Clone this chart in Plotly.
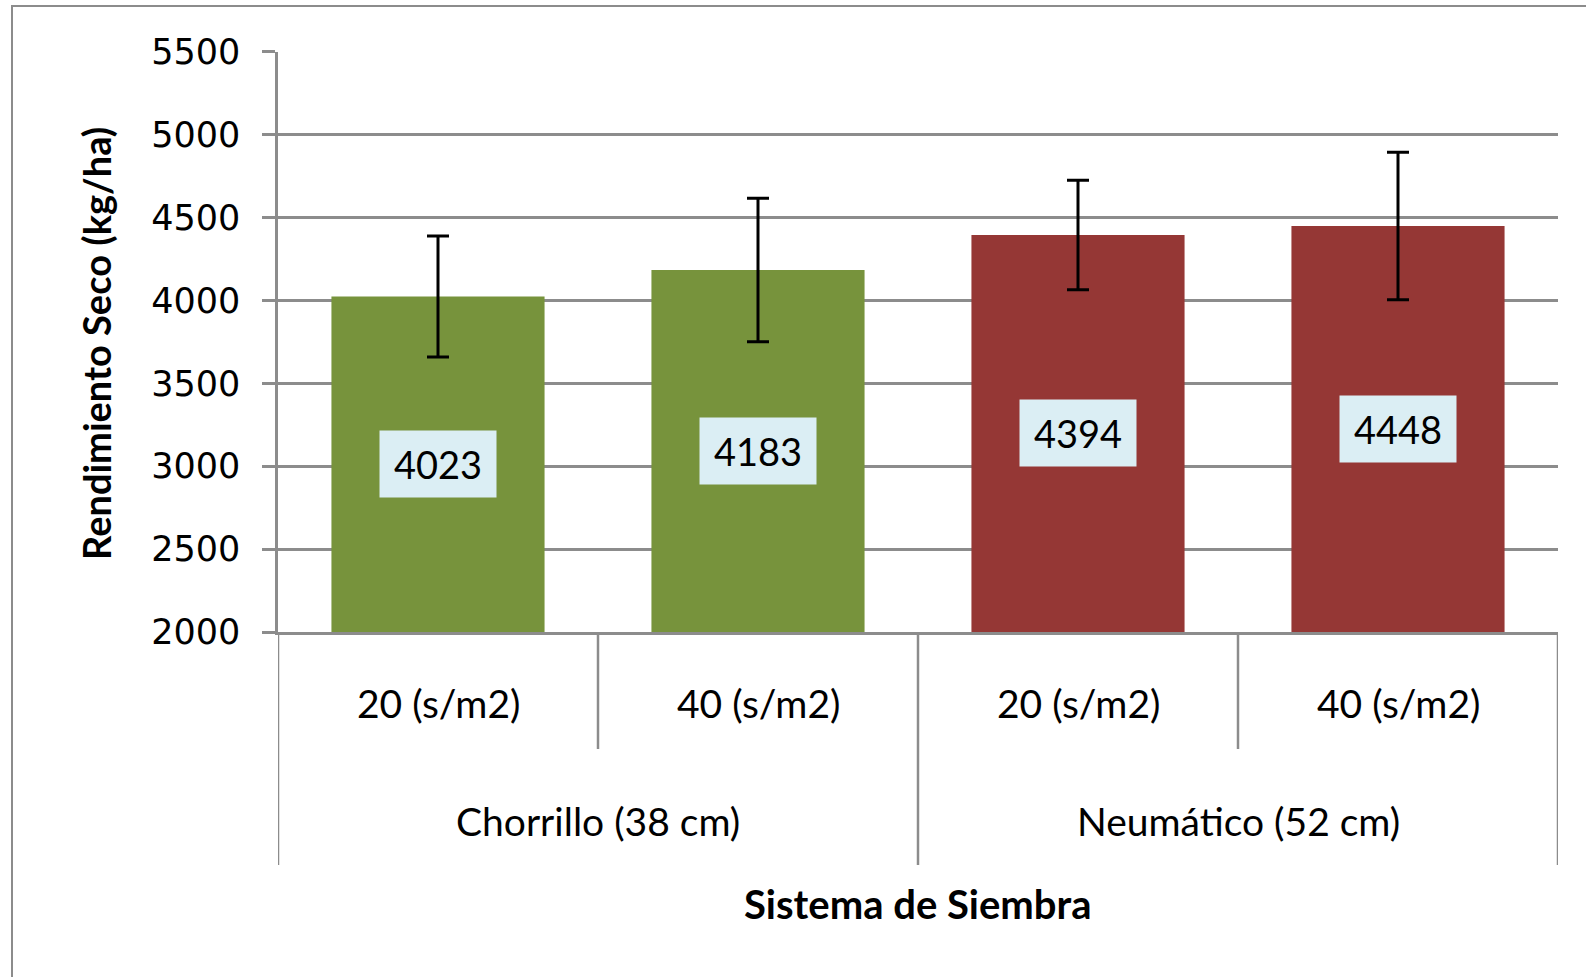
import plotly.graph_objects as go

# ---- data ----
groups = ["Chorrillo (38 cm)", "Neumático (52 cm)"]
densities = ["20 (s/m2)", "40 (s/m2)", "20 (s/m2)", "40 (s/m2)"]
group_of_bar = [0, 0, 1, 1]
values = [4023, 4183, 4394, 4448]
errors = [365, 433, 330, 445]
bar_colors = ["#77933C", "#77933C", "#953735", "#953735"]
y_ticks = [2000, 2500, 3000, 3500, 4000, 4500, 5000, 5500]
y_title = "Rendimiento Seco (kg/ha)"
x_title = "Sistema de Siembra"

W, H = 1586, 977
GRAY = "#8C8C8C"
FONT = "Lato"

# plot area in pixels
x0p, x1p = 278, 1558
ytop, ybot = 51.6, 632

def py(px):
    return 1 - px / H

positions = list(range(len(values)))

fig = go.Figure()
fig.add_trace(go.Bar(
    x=positions, y=values,
    marker=dict(color=bar_colors, line=dict(width=0)),
    width=0.666,
    error_y=dict(type="data", array=errors, visible=True,
                 color="black", thickness=3, width=11),
    hoverinfo="skip",
))

annotations = []
# value labels (boxed, centered in bar)
for i, v in enumerate(values):
    annotations.append(dict(
        x=i, y=(y_ticks[0] + v) / 2, xref="x", yref="y",
        text=str(v), showarrow=False,
        font=dict(family=FONT, size=38, color="black"),
        bgcolor="#DBEEF4", width=114, height=64,
        xanchor="center", yanchor="middle",
    ))
# density labels
for i, d in enumerate(densities):
    annotations.append(dict(
        x=i, y=py(703), xref="x", yref="paper",
        text=d, showarrow=False,
        font=dict(family=FONT, size=39, color="black"),
        xanchor="center", yanchor="middle",
    ))
# group labels
for g, name in enumerate(groups):
    idx = [i for i in positions if group_of_bar[i] == g]
    annotations.append(dict(
        x=sum(idx) / len(idx), y=py(821), xref="x", yref="paper",
        text=name, showarrow=False,
        font=dict(family=FONT, size=39, color="black"),
        xanchor="center", yanchor="middle",
    ))
# axis titles
annotations.append(dict(
    x=(x0p + x1p) / 2 / W, y=py(904), xref="paper", yref="paper",
    text="<b>" + x_title + "</b>", showarrow=False,
    font=dict(family=FONT, size=40, color="black"),
    xanchor="center", yanchor="middle",
))
annotations.append(dict(
    x=96 / W, y=py(344), xref="paper", yref="paper",
    text="<b>" + y_title + "</b>", showarrow=False, textangle=-90,
    font=dict(family=FONT, size=38, color="black"),
    xanchor="center", yanchor="middle",
))

shapes = []
# category dividers below the axis
n = len(values)
for k in range(n + 1):
    xb = k - 0.5
    is_group_edge = (k == 0 or k == n or group_of_bar[k - 1] != group_of_bar[k])
    yend = 865 if is_group_edge else 749
    shapes.append(dict(type="line", xref="x", yref="paper",
                       x0=xb, x1=xb, y0=py(ybot), y1=py(yend),
                       line=dict(color=GRAY, width=2.5)))
# outer chart border
shapes.append(dict(type="rect", xref="paper", yref="paper",
                   x0=12 / W, x1=1.05, y0=-0.05, y1=py(6),
                   line=dict(color=GRAY, width=2), fillcolor="rgba(0,0,0,0)",
                   layer="below"))

fig.update_layout(
    template="none",
    width=W, height=H,
    margin=dict(l=0, r=0, t=0, b=0, pad=0),
    paper_bgcolor="white", plot_bgcolor="white",
    showlegend=False,
    xaxis=dict(domain=[x0p / W, x1p / W], range=[-0.5, n - 0.5],
               automargin=False,
               showticklabels=False, showgrid=False, zeroline=False,
               showline=True, linecolor=GRAY, linewidth=2.5, ticks=""),
    yaxis=dict(domain=[py(ybot), py(ytop)], range=[y_ticks[0], y_ticks[-1]],
               automargin=False,
               tickvals=y_ticks, ticktext=[str(t) for t in y_ticks],
               showgrid=True, gridcolor=GRAY, gridwidth=2.5,
               zeroline=False, showline=True, linecolor=GRAY, linewidth=2.5,
               ticks="outside", ticklen=13, tickwidth=2.5, tickcolor=GRAY,
               ticklabelstandoff=15,
               tickfont=dict(family="DejaVu Sans", size=35, color="black")),
    annotations=annotations,
    shapes=shapes,
    bargap=0.334,
)

fig.write_html(
    "out.html",
    config={"displayModeBar": False},
    post_script="document.body.style.margin='0';document.body.style.overflow='hidden';",
)
